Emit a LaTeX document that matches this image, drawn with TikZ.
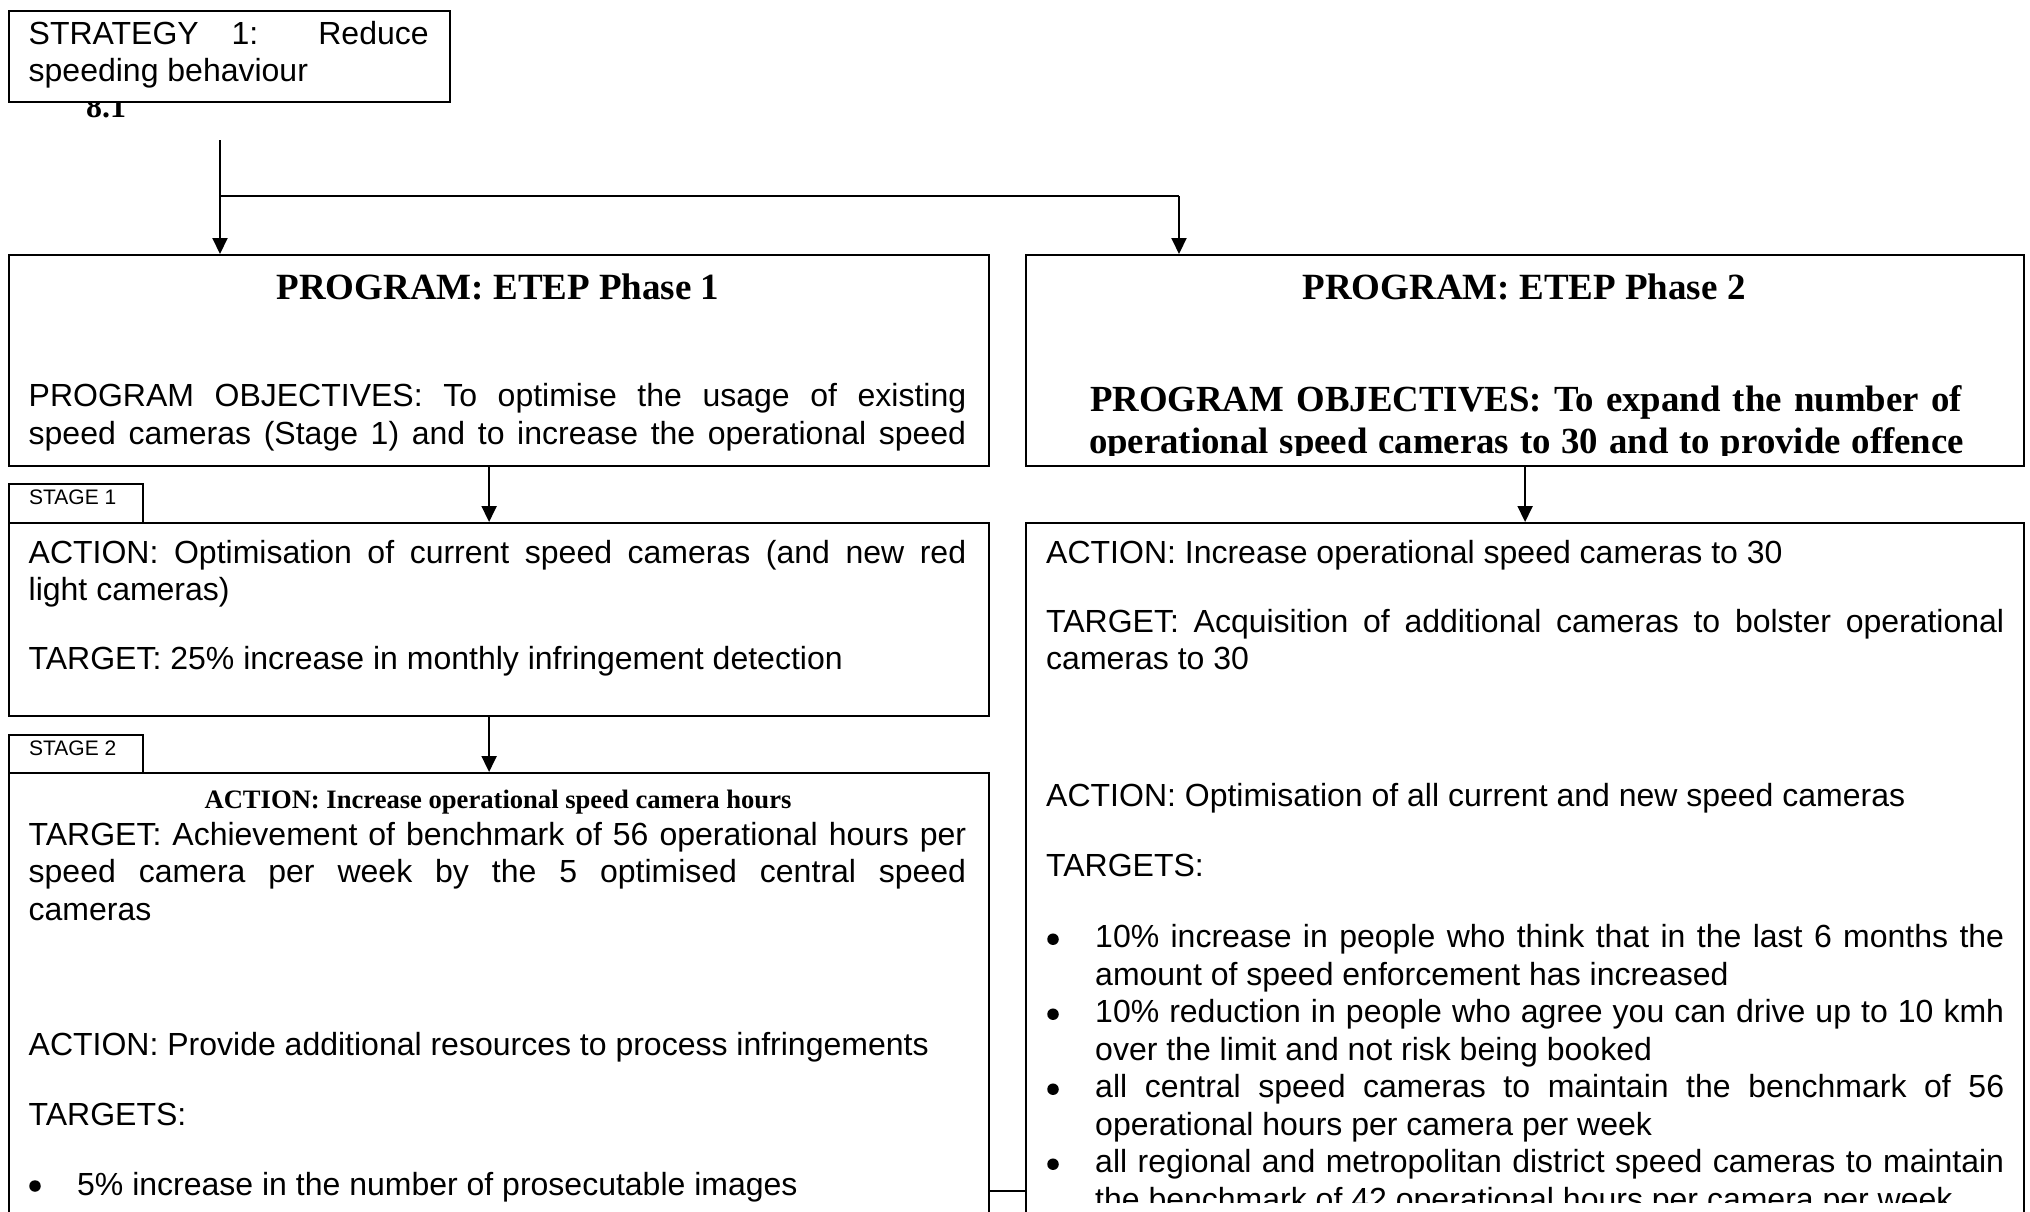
\documentclass[tikz,border=0pt]{standalone}
\usepackage{fontspec}
\setmainfont{Liberation Sans}
\newfontfamily\tnr{Liberation Serif}
\usetikzlibrary{arrows.meta}
\begin{document}
\begin{tikzpicture}[x=1pt,y=-1pt,
  box/.style={draw, line width=2.2pt, fill=white, anchor=north west, inner sep=0pt},
  conn/.style={line width=2pt},
  arr/.style={line width=2pt, -{Triangle[width=15pt,length=16pt]}},
  body/.style={anchor=base west, inner sep=0pt, font=\fontsize{32}{37.5}\selectfont},
  head/.style={anchor=base, inner sep=0pt, font=\tnr\bfseries\fontsize{37}{42}\selectfont},
  obj/.style={anchor=base, inner sep=0pt, font=\tnr\bfseries\fontsize{36.8}{42}\selectfont},
  act/.style={anchor=base, inner sep=0pt, font=\tnr\bfseries\fontsize{26.6}{30}\selectfont},
  tabtxt/.style={anchor=base west, inner sep=0pt, font=\fontsize{21}{24}\selectfont},
  dot/.style={circle, fill, inner sep=0pt, minimum size=11.5pt},
]
\useasboundingbox (0,0) rectangle (2030,1211);
\clip (0,0) rectangle (2030,1211);

% strategy
\node[anchor=base west, inner sep=0pt, font=\tnr\bfseries\fontsize{32}{36}\selectfont] (num) at (86,117) {8.1};
\node[box, minimum width=441pt, minimum height=91pt] (strat) at (8,10) {};
\node[body] (st1) at (28.5,44) {\makebox[400pt][s]{STRATEGY 1: Reduce}};
\node[body] (st2) at (28.5,81.5) {speeding behaviour};

% boxes
\node[box, minimum width=980pt, minimum height=211pt] (prog1) at (8,254) {};
\node[box, minimum width=998pt, minimum height=211pt] (prog2) at (1025,254) {};
\node[box, minimum width=134pt, minimum height=39pt] (tab1) at (8,483) {};
\node[box, minimum width=980pt, minimum height=193pt] (stage1) at (8,522) {};
\node[box, minimum width=134pt, minimum height=38pt] (tab2) at (8,734) {};
\node[box, minimum width=980pt, minimum height=500pt] (stage2) at (8,772) {};
\node[box, minimum width=998pt, minimum height=750pt] (act2) at (1025,522) {};

% connectors
\coordinate (s0) at (220,140);
\coordinate (s1) at (220,196);
\coordinate (b2) at (1179,196);
\draw[arr] (s0) -- (s0 |- prog1.north);
\draw[conn] (s1) -- (b2);
\draw[arr] (b2) -- (b2 |- prog2.north);
\draw[arr] ([xshift=-10pt]prog1.south) -- ([xshift=-10pt]stage1.north);
\draw[arr] (prog2.south) -- (act2.north);
\draw[arr] ([xshift=-10pt]stage1.south) -- ([xshift=-10pt]stage2.north);
\coordinate (hl) at (1000,1191);
\draw[conn] (hl -| stage2.east) -- (hl -| act2.west);

% program 1
\node[head] (h1) at (498,299) {PROGRAM: ETEP Phase 1};
\node[body] (o1a) at (28.5,406.5) {\makebox[937.5pt][s]{PROGRAM OBJECTIVES: To optimise the usage of existing}};
\node[body] (o1b) at (28.5,444) {\makebox[937.5pt][s]{speed cameras (Stage 1) and to increase the operational speed}};

% program 2
\node[head] (h2) at (1524,299) {PROGRAM: ETEP Phase 2};
\begin{scope}
\clip (1025,254) rectangle (2023,455.5);
\node[obj] (o2a) at (1526,411) {\makebox[872pt][s]{PROGRAM OBJECTIVES: To expand the number of}};
\node[obj] (o2b) at (1526.5,453.5) {\makebox[875pt][s]{operational speed cameras to 30 and to provide offence}};
\end{scope}

% stage tabs
\node[tabtxt] (tt1) at (29,504.5) {STAGE 1};
\node[tabtxt] (tt2) at (29,755) {STAGE 2};

% stage 1 text
\node[body] (a1a) at (28.5,563) {\makebox[937.5pt][s]{ACTION: Optimisation of current speed cameras (and new red}};
\node[body] (a1b) at (28.5,600.5) {light cameras)};
\node[body] (a1c) at (28.5,669.3) {TARGET: 25\% increase in monthly infringement detection};

% stage 2 text
\node[act] (a2h) at (498,808) {ACTION: Increase operational speed camera hours};
\node[body] (a2a) at (28.5,845.4) {\makebox[937.5pt][s]{TARGET: Achievement of benchmark of 56 operational hours per}};
\node[body] (a2b) at (28.5,882.9) {\makebox[937.5pt][s]{speed camera per week by the 5 optimised central speed}};
\node[body] (a2c) at (28.5,920.4) {cameras};
\node[body] (a2d) at (28.5,1055) {ACTION: Provide additional resources to process infringements};
\node[body] (a2e) at (28.5,1125) {TARGETS:};
\node[dot] (d0) at (35,1186) {};
\node[body] (a2f) at (77,1195) {5\% increase in the number of prosecutable images};

% right action box text
\node[body] (r1) at (1046,563) {ACTION: Increase operational speed cameras to 30};
\node[body] (r2) at (1046,632) {\makebox[958pt][s]{TARGET: Acquisition of additional cameras to bolster operational}};
\node[body] (r3) at (1046,669.5) {cameras to 30};
\node[body] (r4) at (1046,806.5) {ACTION: Optimisation of all current and new speed cameras};
\node[body] (r5) at (1046,876.5) {TARGETS:};
\node[dot] (d1) at (1053,939.2) {};
\node[body] (b1a) at (1095,947.7) {\makebox[909pt][s]{10\% increase in people who think that in the last 6 months the}};
\node[body] (b1b) at (1095,985.2) {amount of speed enforcement has increased};
\node[dot] (d2) at (1053,1014.2) {};
\node[body] (b2a) at (1095,1022.7) {\makebox[909pt][s]{10\% reduction in people who agree you can drive up to 10 kmh}};
\node[body] (b2b) at (1095,1060.2) {over the limit and not risk being booked};
\node[dot] (d3) at (1053,1089.2) {};
\node[body] (b3a) at (1095,1097.7) {\makebox[909pt][s]{all central speed cameras to maintain the benchmark of 56}};
\node[body] (b3b) at (1095,1135.2) {operational hours per camera per week};
\node[dot] (d4) at (1053,1164.2) {};
\node[body] (b4a) at (1095,1172.7) {\makebox[909pt][s]{all regional and metropolitan district speed cameras to maintain}};
\begin{scope}
\clip (1025,1100) rectangle (2023,1202);
\node[body] (b4b) at (1095,1210.2) {the benchmark of 42 operational hours per camera per week};
\end{scope}
\end{tikzpicture}
\end{document}
